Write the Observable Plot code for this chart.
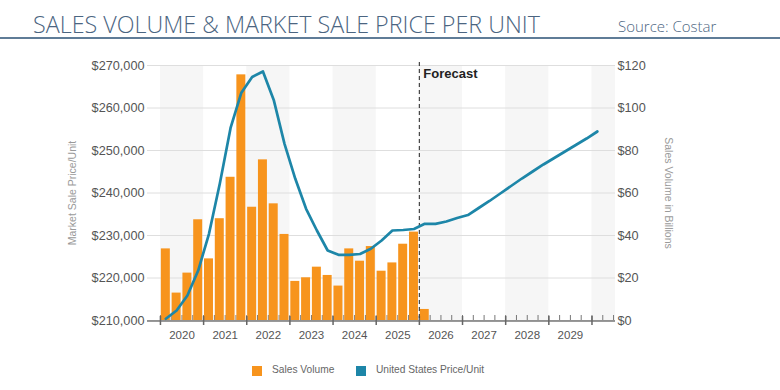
<!DOCTYPE html>
<html><head><meta charset="utf-8">
<script src="https://cdn.jsdelivr.net/npm/d3@7"></script>
<script src="https://cdn.jsdelivr.net/npm/@observablehq/plot@0.6"></script>
<style>
body{margin:0;background:#fff;}
#wrap{position:relative;width:780px;height:390px;overflow:hidden;font-family:"Liberation Sans",Arial,sans-serif;}
#title{position:absolute;left:33px;top:8px;font-family:"Open Sans",sans-serif;font-weight:300;font-size:23.3px;color:#4b6581;white-space:nowrap;}
#source{position:absolute;left:618px;top:16px;font-family:"Open Sans",sans-serif;font-weight:300;font-size:15px;color:#4b6581;white-space:nowrap;}
#rule{position:absolute;left:0;top:37px;width:780px;height:2px;background:#5f7c97;}
#chart{position:absolute;left:0;top:45px;}
#legend{position:absolute;top:363px;left:0;width:780px;height:16px;font-size:10.2px;color:#666;}
.sw{position:absolute;top:3px;width:10px;height:10px;}
.lt{position:absolute;top:1px;white-space:nowrap;}
</style></head><body>
<div id="wrap">
  <div id="title">SALES VOLUME &amp; MARKET SALE PRICE PER UNIT</div>
  <div id="source">Source: Costar</div>
  <div id="rule"></div>
  <div id="chart"></div>
  <div id="legend">
    <div class="sw" style="left:252px;background:#F7941D"></div><div class="lt" style="left:272px">Sales Volume</div>
    <div class="sw" style="left:356px;background:#1D86A8"></div><div class="lt" style="left:376px">United States Price/Unit</div>
  </div>
</div>
<script>
// quarterly series, starting 2020 Q1
const startYear = 2020;
const forecastStart = 2026;
// Sales volume, $ billions (2020Q1 .. 2026Q1)
const salesVolume = [33.7, 12.9, 22.3, 47.4, 29.0, 47.9, 67.4, 115.6, 53.3, 75.6, 54.9, 40.5,
  18.4, 20.1, 25.1, 21.2, 16.2, 33.7, 27.9, 34.8, 23.2, 27.1, 35.9, 41.6, 5.2];
// Market sale price per unit, $ (2020Q1 .. 2030Q1)
const pricePerUnit = [210400, 212350, 215900, 221760, 230400, 242160, 255300, 263600, 267300, 268600,
  261900, 251570, 243340, 236280, 231180, 226470, 225460, 225460, 225650, 226870, 228820, 231180,
  231290, 231530, 232750, 232750, 233290, 234120, 234820, 236470, 238120, 239880, 241650, 243410,
  245060, 246710, 248240, 249770, 251290, 252820, 254470];
const yearLabels = ["2020","2021","2022","2023","2024","2025","2026","2027","2028","2029"];
const priceTicks = [210000, 220000, 230000, 240000, 250000, 260000, 270000];
const volumeTicks = [0, 20, 40, 60, 80, 100, 120];
const xDomain = [2019.70, 2030.545];

const ORANGE = "#F7941D", TEAL = "#1D86A8";
const pMin = priceTicks[0], pMax = priceTicks[priceTicks.length - 1];
const vMax = volumeTicks[volumeTicks.length - 1];
const toPrice = v => pMin + v * (pMax - pMin) / vMax;

const bars = salesVolume.map((v, i) => ({t: startYear + i / 4, v}));
const line = pricePerUnit.map((p, i) => ({t: startYear + i / 4 + 0.125, p}));
const bandYears = d3.range(startYear, Math.ceil(xDomain[1]) + 1, 2);
const majorTicks = d3.range(startYear, Math.floor(xDomain[1]) + 1, 1);
const minorTicks = d3.range(startYear * 4, Math.floor(xDomain[1] * 4) + 1).map(q => q / 4);
const labelPos = yearLabels.map(y => +y + 0.5);

const chart = Plot.plot({
  width: 780, height: 310,
  marginTop: 20, marginBottom: 35, marginLeft: 147, marginRight: 165,
  style: {fontFamily: "'Liberation Sans', Arial, sans-serif", background: "transparent", color: "#555"},
  x: {type: "linear", domain: xDomain},
  y: {type: "linear", domain: [pMin, pMax]},
  marks: [
    Plot.rect(bandYears, {x1: d => d, x2: d => d + 1, y1: () => pMin, y2: () => pMax, fill: "#f6f6f6", clip: true}),
    Plot.ruleY(priceTicks, {stroke: "#dedede", strokeWidth: 1}),
    Plot.axisX({ticks: minorTicks, tickSize: -5, tickFormat: () => "", stroke: "#777", label: null}),
    Plot.rectY(bars, {x1: "t", x2: d => d.t + 0.25, y1: () => pMin, y2: d => toPrice(d.v), fill: ORANGE, insetLeft: 0.9, insetRight: 0.9}),
    Plot.ruleY([pMin], {stroke: "#777", strokeWidth: 1.3, dy: 0.5}),
    Plot.axisX({ticks: majorTicks, tickSize: 5, tickFormat: () => "", stroke: "#666", strokeWidth: 1.5, label: null}),
    Plot.axisX({ticks: majorTicks, tickSize: -4, tickFormat: () => "", stroke: "#666", strokeWidth: 1.5, label: null}),
    Plot.axisX({ticks: labelPos, tickSize: 0, tickPadding: 10, tickFormat: d => yearLabels[labelPos.indexOf(d)], fontSize: 11.5, fill: "#555", label: null}),
    Plot.axisY({anchor: "left", ticks: priceTicks, tickSize: 0, tickPadding: 3, tickFormat: d => "$" + d3.format(",")(d), fontSize: 12.7, fill: "#555", label: null}),
    Plot.axisY({anchor: "right", ticks: priceTicks, tickSize: 0, tickPadding: 2, tickFormat: d => "$" + volumeTicks[priceTicks.indexOf(d)], fontSize: 12.7, fill: "#555", label: null}),
    Plot.ruleX([forecastStart], {stroke: "#444", strokeWidth: 1.2, strokeDasharray: "4,3", insetTop: -3}),
    Plot.text(["Forecast"], {x: () => forecastStart, frameAnchor: "top", dx: 4, dy: 8, textAnchor: "start", lineAnchor: "middle", fontWeight: "bold", fontSize: 13, fill: "#222"}),
    Plot.line(line, {x: "t", y: "p", stroke: TEAL, strokeWidth: 2.7, strokeLinejoin: "round"}),
    Plot.text(["Market Sale Price/Unit"], {frameAnchor: "left", dx: -75, rotate: -90, textAnchor: "middle", lineAnchor: "middle", fill: "#9a9a9a", fontSize: 10.5}),
    Plot.text(["Sales Volume in Billions"], {frameAnchor: "right", dx: 53, rotate: 90, textAnchor: "middle", lineAnchor: "middle", fill: "#9a9a9a", fontSize: 10.5})
  ]
});
document.getElementById("chart").appendChild(chart);
</script>
</body></html>
